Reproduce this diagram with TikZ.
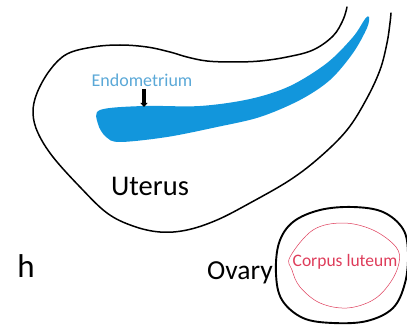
\documentclass[tikz,border=0pt]{standalone}
\usepackage{fontspec}
\setmainfont{Carlito}
\usepackage{tikz}
\usetikzlibrary{arrows.meta}
\definecolor{endoblue}{RGB}{18, 150, 220}
\definecolor{endotext}{RGB}{90, 168, 215}
\definecolor{lutred}{RGB}{222, 60, 90}

\begin{document}
\begin{tikzpicture}[x=1pt, y=-1pt,
    outline/.style={black, line width=1.5pt, line join=round, line cap=round},
    txt/.style={inner sep=0pt, font=\fontsize{28.5}{28.5}\selectfont},
    smalltxt/.style={inner sep=0pt, font=\fontsize{18}{18}\selectfont}]
\useasboundingbox (0,0) rectangle (407,326);

% Uterus wall, open at the top right
\draw[outline] plot[smooth, tension=0.6] coordinates {
    (347,7) (343,20) (333,36) (313,50) (287,57) (260,61) (233,62)
    (207,61) (187,57) (170,52) (147,47) (120,45) (93,47) (67,54)
    (50,70) (37,93) (33,113) (38,133) (53,157) (80,187) (107,213)
    (133,226) (160,232) (187,230) (217,220) (250,203) (290,180)
    (320,157) (347,130) (366,100) (380,70) (387,43) (390,23) (391,13)};

% Endometrium lining
\fill[endoblue] plot[smooth cycle, tension=0.55] coordinates {
    (100,110) (143,106) (200,106) (250,99) (290,86) (327,63)
    (353,37) (365,19) (369,17) (367,28) (353,53) (330,80)
    (300,100) (260,117) (217,127) (167,137) (120,142) (106,137)
    (98,124)};

\node[smalltxt, text=endotext] (endo) at (142,80) {Endometrium};
\coordinate (endotail) at (144,89);
\coordinate (endotip) at (144,107);
\draw[line width=3.4pt, -{Triangle[length=4pt, width=7pt]}] (endotail) -- (endotip);

\node[txt] (uterus) at (150,186) {Uterus};
\node[txt, font=\fontsize{33}{33}\selectfont] (h) at (26,266) {h};

% Ovary and corpus luteum
\draw[black, line width=1.9pt] plot[smooth cycle, tension=0.6] coordinates {
    (279,243) (293,222) (320,210) (353,207) (383,212) (403,229)
    (408,253) (405,283) (393,308) (367,321) (333,323) (303,318)
    (282,300) (276,274)};
\draw[lutred, line width=0.5pt] plot[smooth cycle, tension=0.6] coordinates {
    (290,257) (313,230) (343,223) (373,230) (396,247) (399,263)
    (390,283) (373,300) (347,308) (320,303) (300,287) (292,270)};
\node[smalltxt, font=\fontsize{17.5}{17.5}\selectfont, text=lutred] (luteum) at (345,262) {Corpus luteum};
\node[txt, font=\fontsize{27.5}{27.5}\selectfont] (ovary) at (240,273) {Ovary};
\end{tikzpicture}
\end{document}
